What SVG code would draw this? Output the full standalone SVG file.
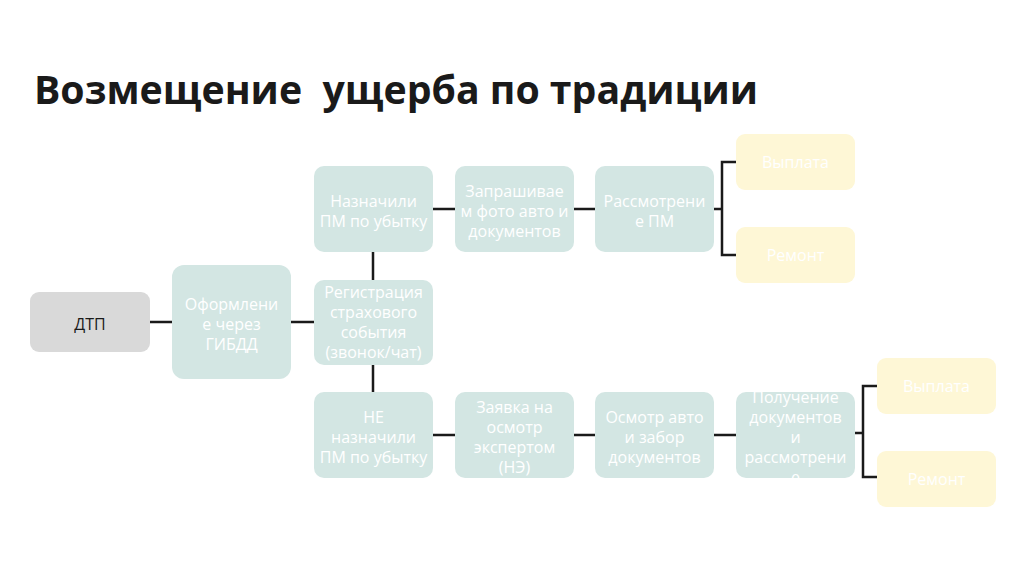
<svg xmlns="http://www.w3.org/2000/svg" width="1024" height="577" viewBox="0 0 1024 577">
<style>
.t{font-family:"Open Sans","Noto Sans","DejaVu Sans",sans-serif;font-size:16px;text-anchor:middle;fill:#ffffff}
.d{fill:#1a1a1a}
.g{fill:#d9d9d9}
.b{fill:#d3e6e3}
.y{fill:#fef7d6}
.c{stroke:#1a1a1a;stroke-width:2.5;fill:none}
</style>
<rect width="1024" height="577" fill="#ffffff"/>
<text x="34" y="104" xml:space="preserve" style="white-space:pre" font-family="'Open Sans','Noto Sans','DejaVu Sans',sans-serif" font-weight="bold" font-size="39" textLength="724" lengthAdjust="spacingAndGlyphs" fill="#1a1a1a">Возмещение  ущерба по традиции</text>
<g id="connectors">
<path class="c" d="M150 322H172M291 322H314M373 252V280M373 365V392M433 209H455M574 209H595M714 209H722M736 162H722V255H736M433 435H455M574 435H595M714 435H736M855 433H863M877 386H863V477H877"/>
</g>
<g id="n-dtp"><rect class="g" x="30" y="292" width="120" height="60" rx="9"/><text class="t d" x="90" y="330" font-size="19">ДТП</text></g>
<g id="n-gibdd"><rect class="b" x="172" y="265" width="119" height="114" rx="12"/><text class="t" x="231.5"><tspan x="231.5" y="310">Оформлени</tspan><tspan x="231.5" y="330">е через</tspan><tspan x="231.5" y="350">ГИБДД</tspan></text></g>
<g id="n-reg"><rect class="b" x="314" y="280" width="119" height="85" rx="10"/><text class="t"><tspan x="373.5" y="298">Регистрация</tspan><tspan x="373.5" y="318">страхового</tspan><tspan x="373.5" y="338">события</tspan><tspan x="373.5" y="358">(звонок/чат)</tspan></text></g>
<g id="n-pm"><rect class="b" x="314" y="166" width="119" height="86" rx="10"/><text class="t"><tspan x="373.5" y="207">Назначили</tspan><tspan x="373.5" y="227">ПМ по убытку</tspan></text></g>
<g id="n-photo"><rect class="b" x="455" y="166" width="119" height="86" rx="10"/><text class="t"><tspan x="514.5" y="197">Запрашивае</tspan><tspan x="514.5" y="217">м фото авто и</tspan><tspan x="514.5" y="237">документов</tspan></text></g>
<g id="n-rev"><rect class="b" x="595" y="166" width="119" height="86" rx="10"/><text class="t"><tspan x="654.5" y="207">Рассмотрени</tspan><tspan x="654.5" y="227">е ПМ</tspan></text></g>
<g id="n-pay1"><rect class="y" x="736" y="134" width="119" height="56" rx="9"/><text class="t" x="795.5" y="168">Выплата</text></g>
<g id="n-rep1"><rect class="y" x="736" y="227" width="119" height="56" rx="9"/><text class="t" x="795.5" y="261">Ремонт</text></g>
<g id="n-nopm"><rect class="b" x="314" y="392" width="119" height="86" rx="10"/><text class="t"><tspan x="373.5" y="423">НЕ</tspan><tspan x="373.5" y="443">назначили</tspan><tspan x="373.5" y="463">ПМ по убытку</tspan></text></g>
<g id="n-req"><rect class="b" x="455" y="392" width="119" height="86" rx="10"/><text class="t"><tspan x="514.5" y="413">Заявка на</tspan><tspan x="514.5" y="433">осмотр</tspan><tspan x="514.5" y="453">экспертом</tspan><tspan x="514.5" y="473">(НЭ)</tspan></text></g>
<g id="n-insp"><rect class="b" x="595" y="392" width="119" height="86" rx="10"/><text class="t"><tspan x="654.5" y="423">Осмотр авто</tspan><tspan x="654.5" y="443">и забор</tspan><tspan x="654.5" y="463">документов</tspan></text></g>
<g id="n-docs"><rect class="b" x="736" y="392" width="119" height="86" rx="10"/><text class="t"><tspan x="795.5" y="403">Получение</tspan><tspan x="795.5" y="423">документов</tspan><tspan x="795.5" y="443">и</tspan><tspan x="795.5" y="463">рассмотрени</tspan><tspan x="795.5" y="483">е</tspan></text></g>
<g id="n-pay2"><rect class="y" x="877" y="358" width="119" height="56" rx="9"/><text class="t" x="936.5" y="392">Выплата</text></g>
<g id="n-rep2"><rect class="y" x="877" y="451" width="119" height="56" rx="9"/><text class="t" x="936.5" y="485">Ремонт</text></g>
</svg>
